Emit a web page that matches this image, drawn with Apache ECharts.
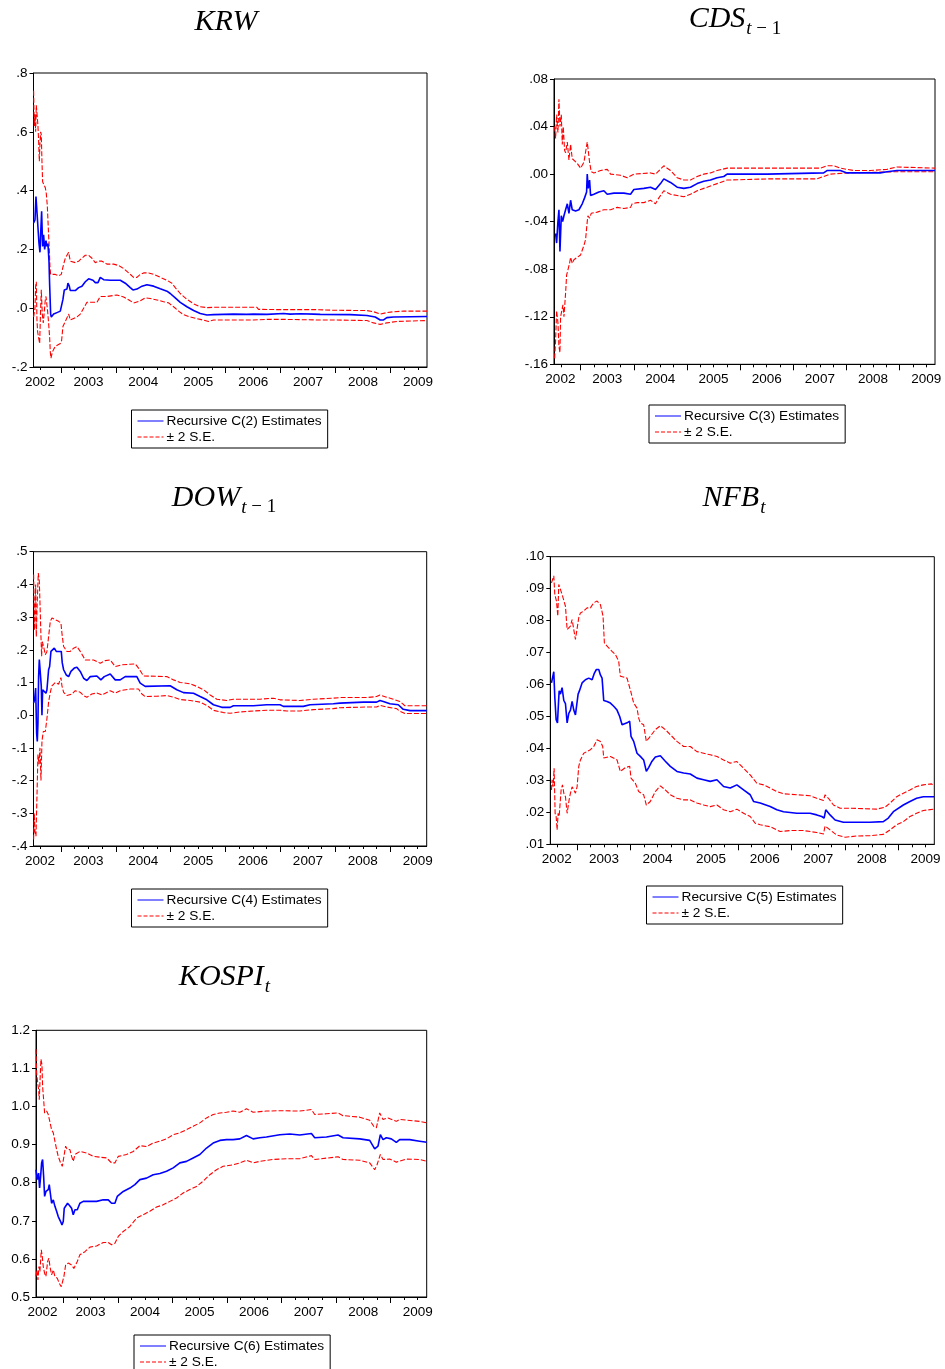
<!DOCTYPE html>
<html><head><meta charset="utf-8">
<script src="https://cdn.jsdelivr.net/npm/echarts@6/dist/echarts.min.js"></script>
<style>html,body{margin:0;padding:0;background:#fff}#c{width:945px;height:1369px}</style>
</head><body><div id="c"></div>
<script>
// ---------- DATA (x = fractional year, y = coefficient) ----------
const yearLabels = ['2002','2003','2004','2005','2006','2007','2008','2009'];
const xStart = 2002.5, xEnd = 2009.665;

const krwTicks = [-0.2, 0, 0.2, 0.4, 0.6, 0.8];
const cdsTicks = [-0.16, -0.12, -0.08, -0.04, 0, 0.04, 0.08];
const dowTicks = [-0.4, -0.3, -0.2, -0.1, 0, 0.1, 0.2, 0.3, 0.4, 0.5];
const nfbTicks = [0.01, 0.02, 0.03, 0.04, 0.05, 0.06, 0.07, 0.08, 0.09, 0.10];
const kospiTicks = [0.5, 0.6, 0.7, 0.8, 0.9, 1.0, 1.1, 1.2];

const krwEst = [[2002.502,0.29],[2002.527,0.30],[2002.545,0.38],[2002.581,0.38],[2002.600,0.22],[2002.618,0.19],[2002.630,0.25],[2002.648,0.33],[2002.666,0.21],[2002.684,0.25],[2002.703,0.20],[2002.727,0.23],[2002.745,0.21],[2002.763,0.22],[2002.782,0.16],[2002.794,0.08],[2002.812,-0.02],[2002.824,-0.03],[2002.867,-0.02],[2002.927,-0.015],[2002.988,-0.01],[2003.018,-0.005],[2003.036,0.03],[2003.061,0.062],[2003.109,0.065],[2003.127,0.085],[2003.152,0.075],[2003.170,0.06],[2003.200,0.065],[2003.261,0.06],[2003.322,0.07],[2003.382,0.075],[2003.443,0.09],[2003.504,0.10],[2003.534,0.105],[2003.583,0.095],[2003.625,0.087],[2003.674,0.087],[2003.716,0.105],[2003.777,0.097],[2003.898,0.095],[2004.080,0.095],[2004.171,0.085],[2004.262,0.07],[2004.311,0.062],[2004.383,0.065],[2004.475,0.075],[2004.566,0.08],[2004.687,0.075],[2004.808,0.066],[2004.930,0.058],[2004.990,0.05],[2005.081,0.035],[2005.172,0.02],[2005.294,0.005],[2005.415,-0.008],[2005.536,-0.018],[2005.658,-0.023],[2005.779,-0.022],[2006.143,-0.02],[2006.386,-0.021],[2006.507,-0.02],[2006.750,-0.021],[2007.053,-0.018],[2007.175,-0.02],[2007.357,-0.019],[2007.600,-0.02],[2007.721,-0.021],[2008.267,-0.022],[2008.570,-0.025],[2008.722,-0.03],[2008.813,-0.04],[2008.874,-0.04],[2008.934,-0.032],[2009.056,-0.03],[2009.665,-0.028]];
const krwUpper = [[2002.502,0.74],[2002.514,0.62],[2002.527,0.66],[2002.539,0.60],[2002.551,0.69],[2002.569,0.65],[2002.581,0.62],[2002.593,0.57],[2002.606,0.50],[2002.618,0.56],[2002.630,0.60],[2002.642,0.59],[2002.654,0.50],[2002.666,0.43],[2002.691,0.42],[2002.715,0.41],[2002.733,0.39],[2002.751,0.35],[2002.763,0.30],[2002.775,0.25],[2002.788,0.20],[2002.800,0.14],[2002.812,0.115],[2002.836,0.12],[2002.897,0.115],[2002.958,0.11],[2003.006,0.115],[2003.024,0.13],[2003.049,0.15],[2003.079,0.17],[2003.109,0.18],[2003.140,0.19],[2003.170,0.16],[2003.200,0.16],[2003.261,0.155],[2003.322,0.16],[2003.382,0.17],[2003.443,0.18],[2003.504,0.18],[2003.564,0.17],[2003.625,0.155],[2003.686,0.16],[2003.746,0.16],[2003.837,0.15],[2003.959,0.15],[2004.050,0.145],[2004.141,0.135],[2004.232,0.12],[2004.323,0.105],[2004.383,0.105],[2004.444,0.115],[2004.505,0.12],[2004.596,0.12],[2004.687,0.115],[2004.808,0.105],[2004.930,0.095],[2005.021,0.085],[2005.081,0.07],[2005.172,0.05],[2005.294,0.03],[2005.415,0.015],[2005.536,0.005],[2005.658,0.002],[2005.779,0.003],[2006.143,0.003],[2006.568,0.003],[2006.598,-0.004],[2007.053,-0.005],[2007.660,-0.005],[2007.964,-0.007],[2008.570,-0.008],[2008.692,-0.012],[2008.813,-0.02],[2008.934,-0.015],[2009.056,-0.012],[2009.238,-0.01],[2009.665,-0.01]];
const krwLower = [[2002.502,-0.03],[2002.527,0.0],[2002.539,0.074],[2002.551,0.09],[2002.563,-0.04],[2002.575,-0.08],[2002.593,-0.10],[2002.612,-0.12],[2002.630,0.0],[2002.642,0.063],[2002.660,-0.02],[2002.678,-0.05],[2002.697,-0.01],[2002.715,0.03],[2002.727,0.04],[2002.745,0.01],[2002.757,-0.01],[2002.775,-0.05],[2002.794,-0.10],[2002.806,-0.15],[2002.818,-0.17],[2002.842,-0.15],[2002.867,-0.14],[2002.897,-0.13],[2002.927,-0.125],[2002.988,-0.12],[2003.012,-0.11],[2003.036,-0.062],[2003.079,-0.045],[2003.109,-0.04],[2003.140,-0.02],[2003.170,-0.04],[2003.231,-0.035],[2003.291,-0.03],[2003.352,-0.02],[2003.413,0.0],[2003.473,0.02],[2003.564,0.02],[2003.655,0.02],[2003.716,0.04],[2003.837,0.04],[2004.019,0.045],[2004.141,0.038],[2004.262,0.025],[2004.323,0.018],[2004.444,0.025],[2004.535,0.035],[2004.626,0.033],[2004.748,0.028],[2004.869,0.022],[2004.960,0.018],[2005.051,0.005],[2005.142,-0.01],[2005.233,-0.022],[2005.354,-0.03],[2005.536,-0.038],[2005.688,-0.045],[2005.779,-0.04],[2006.143,-0.04],[2006.507,-0.04],[2006.750,-0.038],[2007.053,-0.038],[2007.660,-0.04],[2007.964,-0.04],[2008.570,-0.042],[2008.692,-0.05],[2008.813,-0.055],[2008.934,-0.05],[2009.117,-0.045],[2009.665,-0.042]];

const cdsEst = [[2002.530,-0.05],[2002.549,-0.058],[2002.574,-0.04],[2002.593,-0.03],[2002.612,-0.065],[2002.637,-0.035],[2002.662,-0.04],[2002.687,-0.035],[2002.718,-0.03],[2002.750,-0.025],[2002.781,-0.033],[2002.812,-0.022],[2002.843,-0.03],[2002.906,-0.031],[2002.969,-0.03],[2003.031,-0.025],[2003.075,-0.02],[2003.113,-0.015],[2003.125,0.0],[2003.144,-0.012],[2003.169,-0.005],[2003.188,-0.018],[2003.250,-0.017],[2003.344,-0.015],[2003.438,-0.014],[2003.501,-0.017],[2003.626,-0.016],[2003.814,-0.016],[2003.939,-0.017],[2004.002,-0.013],[2004.190,-0.012],[2004.315,-0.011],[2004.409,-0.013],[2004.503,-0.008],[2004.565,-0.004],[2004.691,-0.007],[2004.816,-0.011],[2004.941,-0.012],[2005.066,-0.011],[2005.192,-0.008],[2005.317,-0.006],[2005.442,-0.005],[2005.567,-0.003],[2005.693,-0.002],[2005.755,0.0],[2006.507,0.0],[2006.538,0.001],[2007.571,0.001],[2007.634,0.003],[2007.884,0.003],[2008.009,0.001],[2008.636,0.001],[2008.761,0.002],[2008.949,0.003],[2009.665,0.003]];
const cdsUpper = [[2002.512,0.04],[2002.530,0.03],[2002.549,0.05],[2002.574,0.035],[2002.593,0.063],[2002.612,0.04],[2002.637,0.05],[2002.656,0.025],[2002.674,0.04],[2002.699,0.02],[2002.718,0.018],[2002.750,0.027],[2002.781,0.012],[2002.812,0.025],[2002.843,0.013],[2002.875,0.012],[2002.937,0.009],[2003.000,0.005],[2003.063,0.01],[2003.125,0.027],[2003.144,0.02],[2003.169,0.01],[2003.200,0.002],[2003.250,0.001],[2003.376,0.003],[2003.501,0.004],[2003.564,0.0],[2003.751,-0.001],[2003.877,-0.003],[2004.002,0.0],[2004.315,0.001],[2004.409,0.0],[2004.565,0.007],[2004.691,0.003],[2004.816,-0.003],[2004.941,-0.005],[2005.066,-0.005],[2005.192,-0.002],[2005.317,0.0],[2005.442,0.001],[2005.567,0.003],[2005.755,0.005],[2007.508,0.005],[2007.634,0.007],[2007.759,0.007],[2007.884,0.005],[2008.009,0.004],[2008.135,0.003],[2008.448,0.003],[2008.761,0.004],[2008.949,0.006],[2009.665,0.005]];
const cdsLower = [[2002.512,-0.155],[2002.530,-0.14],[2002.549,-0.115],[2002.574,-0.125],[2002.593,-0.145],[2002.612,-0.15],[2002.624,-0.12],[2002.643,-0.12],[2002.668,-0.11],[2002.687,-0.12],[2002.718,-0.10],[2002.737,-0.085],[2002.762,-0.085],[2002.793,-0.075],[2002.812,-0.07],[2002.843,-0.075],[2002.875,-0.072],[2002.937,-0.07],[2003.000,-0.068],[2003.063,-0.06],[2003.094,-0.055],[2003.125,-0.04],[2003.138,-0.035],[2003.169,-0.037],[2003.200,-0.033],[2003.313,-0.032],[2003.438,-0.03],[2003.564,-0.03],[2003.689,-0.028],[2003.814,-0.029],[2003.939,-0.028],[2003.971,-0.025],[2004.065,-0.024],[2004.190,-0.024],[2004.315,-0.022],[2004.409,-0.025],[2004.472,-0.02],[2004.565,-0.014],[2004.691,-0.017],[2004.816,-0.018],[2004.941,-0.019],[2005.066,-0.017],[2005.192,-0.014],[2005.317,-0.012],[2005.442,-0.01],[2005.567,-0.008],[2005.693,-0.006],[2005.755,-0.005],[2006.569,-0.004],[2007.446,-0.004],[2007.571,-0.002],[2007.696,0.0],[2008.009,0.001],[2008.949,0.002],[2009.665,0.002]];

const dowEst = [[2002.502,0.037],[2002.520,0.047],[2002.539,0.083],[2002.557,-0.055],[2002.569,-0.08],[2002.581,-0.024],[2002.593,0.118],[2002.606,0.17],[2002.624,0.17],[2002.642,0.088],[2002.654,0.0],[2002.666,0.078],[2002.697,0.083],[2002.727,0.067],[2002.745,0.078],[2002.775,0.139],[2002.794,0.149],[2002.818,0.195],[2002.848,0.20],[2002.879,0.205],[2002.915,0.195],[2002.958,0.195],[2002.988,0.20],[2003.006,0.195],[2003.024,0.16],[2003.049,0.139],[2003.097,0.123],[2003.140,0.118],[2003.182,0.134],[2003.243,0.144],[2003.291,0.147],[2003.352,0.134],[2003.413,0.113],[2003.473,0.106],[2003.534,0.118],[2003.655,0.12],[2003.728,0.108],[2003.789,0.118],[2003.898,0.126],[2003.989,0.108],[2004.080,0.108],[2004.171,0.118],[2004.383,0.118],[2004.444,0.098],[2004.535,0.088],[2004.990,0.09],[2005.112,0.078],[2005.233,0.069],[2005.415,0.067],[2005.536,0.057],[2005.658,0.047],[2005.779,0.032],[2005.931,0.024],[2006.083,0.024],[2006.143,0.029],[2006.507,0.029],[2006.750,0.032],[2006.993,0.032],[2007.053,0.027],[2007.417,0.027],[2007.539,0.032],[2007.964,0.035],[2008.085,0.037],[2008.510,0.04],[2008.752,0.04],[2008.813,0.045],[2008.874,0.042],[2008.995,0.035],[2009.147,0.032],[2009.238,0.018],[2009.359,0.014],[2009.665,0.014]];
const dowUpper = [[2002.502,0.43],[2002.520,0.26],[2002.539,0.40],[2002.551,0.24],[2002.563,0.32],[2002.587,0.435],[2002.606,0.41],[2002.624,0.31],[2002.636,0.24],[2002.648,0.18],[2002.660,0.225],[2002.684,0.21],[2002.715,0.185],[2002.745,0.195],[2002.775,0.24],[2002.806,0.287],[2002.836,0.297],[2002.867,0.302],[2002.897,0.292],[2002.958,0.287],[2003.000,0.282],[2003.018,0.251],[2003.049,0.21],[2003.109,0.195],[2003.170,0.195],[2003.231,0.205],[2003.291,0.21],[2003.352,0.195],[2003.443,0.169],[2003.595,0.169],[2003.716,0.159],[2003.807,0.167],[2003.898,0.169],[2003.989,0.149],[2004.110,0.154],[2004.353,0.157],[2004.414,0.144],[2004.505,0.12],[2004.930,0.118],[2005.051,0.108],[2005.172,0.10],[2005.354,0.096],[2005.476,0.088],[2005.597,0.078],[2005.718,0.062],[2005.840,0.049],[2006.022,0.045],[2006.143,0.049],[2006.629,0.049],[2006.871,0.052],[2006.993,0.047],[2007.357,0.045],[2007.600,0.049],[2007.964,0.052],[2008.085,0.054],[2008.570,0.054],[2008.752,0.057],[2008.813,0.062],[2008.934,0.055],[2009.056,0.049],[2009.177,0.042],[2009.268,0.029],[2009.665,0.029]];
const dowLower = [[2002.502,-0.38],[2002.514,-0.30],[2002.527,-0.36],[2002.545,-0.37],[2002.563,-0.25],[2002.581,-0.12],[2002.600,-0.15],[2002.618,-0.10],[2002.636,-0.20],[2002.654,-0.08],[2002.678,-0.05],[2002.715,-0.05],[2002.745,-0.01],[2002.775,0.04],[2002.806,0.07],[2002.836,0.09],[2002.897,0.10],[2002.958,0.095],[2003.000,0.115],[2003.018,0.09],[2003.049,0.07],[2003.109,0.06],[2003.140,0.055],[2003.200,0.065],[2003.261,0.075],[2003.352,0.07],[2003.413,0.06],[2003.473,0.055],[2003.564,0.065],[2003.655,0.068],[2003.746,0.062],[2003.898,0.075],[2003.989,0.068],[2004.080,0.075],[2004.262,0.08],[2004.414,0.08],[2004.475,0.065],[2004.535,0.057],[2004.748,0.058],[2004.930,0.06],[2005.051,0.055],[2005.172,0.048],[2005.354,0.045],[2005.536,0.04],[2005.658,0.03],[2005.779,0.015],[2005.961,0.008],[2006.083,0.006],[2006.265,0.01],[2006.507,0.013],[2006.750,0.015],[2006.993,0.015],[2007.114,0.013],[2007.357,0.013],[2007.600,0.017],[2007.964,0.02],[2008.085,0.023],[2008.570,0.025],[2008.752,0.025],[2008.813,0.03],[2008.934,0.025],[2009.117,0.02],[2009.177,0.012],[2009.268,0.005],[2009.665,0.005]];

const nfbEst = [[2002.522,0.0605],[2002.547,0.060],[2002.565,0.064],[2002.584,0.056],[2002.609,0.049],[2002.634,0.048],[2002.652,0.054],[2002.665,0.058],[2002.689,0.057],[2002.720,0.059],[2002.752,0.055],[2002.783,0.054],[2002.814,0.048],[2002.845,0.051],[2002.876,0.052],[2002.907,0.0547],[2002.938,0.052],[2002.969,0.0505],[2003.000,0.050],[2003.019,0.057],[2003.043,0.058],[2003.093,0.0605],[2003.155,0.0615],[2003.217,0.062],[2003.280,0.0615],[2003.323,0.0636],[2003.360,0.0647],[2003.404,0.0647],[2003.435,0.063],[2003.466,0.062],[2003.497,0.055],[2003.559,0.0547],[2003.621,0.0542],[2003.683,0.0532],[2003.745,0.052],[2003.795,0.050],[2003.839,0.0474],[2003.932,0.048],[2003.981,0.0485],[2004.006,0.0438],[2004.056,0.0422],[2004.118,0.0385],[2004.180,0.0375],[2004.242,0.0364],[2004.292,0.0328],[2004.335,0.034],[2004.398,0.036],[2004.460,0.0373],[2004.553,0.0377],[2004.646,0.036],[2004.739,0.0344],[2004.863,0.0328],[2004.988,0.0323],[2005.112,0.032],[2005.236,0.0307],[2005.360,0.0302],[2005.484,0.0297],[2005.609,0.0302],[2005.733,0.0281],[2005.857,0.0276],[2005.981,0.0286],[2006.106,0.027],[2006.230,0.0255],[2006.292,0.0234],[2006.416,0.0229],[2006.602,0.0218],[2006.727,0.0208],[2006.851,0.0202],[2007.099,0.0197],[2007.348,0.0197],[2007.472,0.0192],[2007.565,0.0187],[2007.609,0.0182],[2007.640,0.0208],[2007.720,0.0192],[2007.814,0.0176],[2007.969,0.0169],[2008.466,0.0169],[2008.714,0.0171],[2008.807,0.0182],[2008.901,0.0202],[2009.087,0.0223],[2009.211,0.0234],[2009.335,0.0244],[2009.460,0.0249],[2009.665,0.0249]];
const nfbUpper = [[2002.522,0.0918],[2002.547,0.0924],[2002.565,0.094],[2002.584,0.0882],[2002.615,0.0861],[2002.640,0.0814],[2002.658,0.0913],[2002.689,0.0908],[2002.720,0.0882],[2002.752,0.0877],[2002.783,0.0845],[2002.814,0.0772],[2002.845,0.0772],[2002.876,0.0783],[2002.907,0.0803],[2002.938,0.0772],[2002.969,0.0741],[2003.000,0.0746],[2003.031,0.0809],[2003.062,0.0824],[2003.124,0.083],[2003.186,0.084],[2003.248,0.084],[2003.311,0.0856],[2003.373,0.0861],[2003.435,0.085],[2003.484,0.0814],[2003.509,0.073],[2003.559,0.072],[2003.652,0.0704],[2003.714,0.0694],[2003.776,0.0673],[2003.807,0.0626],[2003.932,0.062],[2004.000,0.0579],[2004.056,0.0542],[2004.118,0.0526],[2004.149,0.0495],[2004.180,0.048],[2004.242,0.0474],[2004.292,0.0422],[2004.366,0.0438],[2004.460,0.0459],[2004.553,0.0471],[2004.646,0.0459],[2004.739,0.0443],[2004.863,0.0422],[2004.988,0.0406],[2005.112,0.0406],[2005.236,0.039],[2005.360,0.0385],[2005.484,0.038],[2005.609,0.0375],[2005.733,0.0364],[2005.857,0.0354],[2005.981,0.0359],[2006.106,0.0338],[2006.230,0.0317],[2006.354,0.0291],[2006.478,0.0286],[2006.602,0.0276],[2006.727,0.0265],[2006.851,0.0258],[2007.099,0.0255],[2007.348,0.0252],[2007.472,0.0244],[2007.596,0.0237],[2007.627,0.0255],[2007.689,0.0244],[2007.783,0.0223],[2007.907,0.0213],[2008.093,0.0213],[2008.590,0.021],[2008.745,0.0216],[2008.839,0.0229],[2008.963,0.0249],[2009.087,0.026],[2009.211,0.027],[2009.335,0.0281],[2009.460,0.0286],[2009.615,0.0289],[2009.665,0.0283]];
const nfbLower = [[2002.522,0.027],[2002.534,0.0302],[2002.553,0.028],[2002.571,0.0338],[2002.590,0.0197],[2002.609,0.0187],[2002.627,0.0145],[2002.646,0.0197],[2002.665,0.0187],[2002.702,0.027],[2002.727,0.0286],[2002.752,0.026],[2002.783,0.0249],[2002.814,0.0197],[2002.832,0.0192],[2002.851,0.0239],[2002.876,0.026],[2002.907,0.028],[2002.938,0.027],[2002.969,0.026],[2003.000,0.028],[2003.031,0.0344],[2003.062,0.0364],[2003.124,0.0385],[2003.248,0.0396],[2003.311,0.0406],[2003.373,0.0427],[2003.435,0.0422],[2003.478,0.0406],[2003.497,0.037],[2003.621,0.0375],[2003.745,0.0364],[2003.807,0.0328],[2003.901,0.034],[2003.981,0.0344],[2004.006,0.0307],[2004.087,0.0291],[2004.149,0.0265],[2004.242,0.0255],[2004.292,0.0223],[2004.366,0.0234],[2004.460,0.0265],[2004.553,0.0283],[2004.646,0.027],[2004.739,0.0255],[2004.863,0.0244],[2004.988,0.0239],[2005.112,0.0239],[2005.236,0.0229],[2005.360,0.0223],[2005.484,0.0218],[2005.609,0.0223],[2005.733,0.0208],[2005.857,0.0202],[2005.981,0.021],[2006.106,0.0197],[2006.230,0.0187],[2006.323,0.0166],[2006.416,0.0161],[2006.602,0.0155],[2006.789,0.014],[2006.975,0.0143],[2007.224,0.0143],[2007.472,0.0137],[2007.596,0.0132],[2007.627,0.0157],[2007.720,0.0145],[2007.845,0.0129],[2008.000,0.0122],[2008.217,0.0126],[2008.466,0.0127],[2008.714,0.0131],[2008.839,0.0145],[2008.963,0.0161],[2009.087,0.0171],[2009.211,0.0187],[2009.335,0.0197],[2009.460,0.0206],[2009.665,0.021]];

const kospiEst = [[2002.500,0.834],[2002.524,0.808],[2002.548,0.825],[2002.566,0.786],[2002.585,0.817],[2002.603,0.852],[2002.621,0.861],[2002.640,0.817],[2002.658,0.764],[2002.682,0.777],[2002.725,0.782],[2002.743,0.795],[2002.756,0.79],[2002.786,0.746],[2002.817,0.755],[2002.847,0.738],[2002.878,0.725],[2002.908,0.711],[2002.951,0.698],[2002.976,0.689],[2003.000,0.698],[2003.018,0.733],[2003.049,0.738],[2003.079,0.746],[2003.122,0.739],[2003.153,0.733],[2003.183,0.716],[2003.214,0.729],[2003.257,0.729],[2003.305,0.746],[2003.367,0.751],[2003.611,0.751],[2003.733,0.755],[2003.825,0.755],[2003.886,0.746],[2003.947,0.746],[2003.990,0.764],[2004.100,0.777],[2004.222,0.786],[2004.313,0.795],[2004.405,0.808],[2004.527,0.812],[2004.649,0.821],[2004.772,0.824],[2004.894,0.83],[2005.016,0.839],[2005.138,0.852],[2005.260,0.856],[2005.382,0.865],[2005.505,0.874],[2005.627,0.891],[2005.749,0.904],[2005.871,0.911],[2005.993,0.913],[2006.115,0.913],[2006.238,0.915],[2006.360,0.924],[2006.482,0.915],[2006.604,0.918],[2006.726,0.92],[2006.971,0.926],[2007.154,0.928],[2007.337,0.925],[2007.551,0.929],[2007.612,0.918],[2007.826,0.92],[2008.040,0.925],[2008.131,0.918],[2008.437,0.915],[2008.620,0.911],[2008.711,0.889],[2008.772,0.896],[2008.815,0.926],[2008.864,0.913],[2008.925,0.918],[2009.016,0.915],[2009.108,0.906],[2009.169,0.913],[2009.353,0.913],[2009.536,0.909],[2009.665,0.906]];
const kospiUpper = [[2002.500,1.15],[2002.511,1.089],[2002.530,1.062],[2002.548,1.045],[2002.560,1.018],[2002.572,1.062],[2002.591,1.124],[2002.609,1.11],[2002.621,1.053],[2002.640,1.018],[2002.658,0.983],[2002.695,0.988],[2002.725,0.979],[2002.756,0.983],[2002.786,0.939],[2002.817,0.931],[2002.847,0.909],[2002.878,0.887],[2002.908,0.869],[2002.951,0.852],[2002.982,0.843],[2003.012,0.869],[2003.043,0.896],[2003.073,0.887],[2003.122,0.887],[2003.153,0.869],[2003.183,0.856],[2003.214,0.874],[2003.305,0.882],[2003.428,0.878],[2003.550,0.869],[2003.794,0.865],[2003.886,0.852],[2003.947,0.852],[2004.008,0.869],[2004.161,0.874],[2004.283,0.882],[2004.405,0.897],[2004.527,0.895],[2004.649,0.904],[2004.772,0.909],[2004.894,0.915],[2005.016,0.926],[2005.138,0.931],[2005.260,0.939],[2005.382,0.948],[2005.505,0.957],[2005.627,0.97],[2005.749,0.979],[2005.871,0.983],[2005.993,0.985],[2006.115,0.988],[2006.238,0.985],[2006.360,0.994],[2006.482,0.985],[2006.726,0.988],[2006.971,0.989],[2007.337,0.988],[2007.551,0.992],[2007.612,0.979],[2007.826,0.981],[2008.040,0.983],[2008.131,0.976],[2008.437,0.972],[2008.620,0.964],[2008.693,0.948],[2008.742,0.944],[2008.803,0.983],[2008.864,0.966],[2008.955,0.97],[2009.108,0.961],[2009.169,0.966],[2009.536,0.961],[2009.665,0.957]];
const kospiLower = [[2002.500,0.554],[2002.517,0.571],[2002.536,0.545],[2002.554,0.58],[2002.572,0.567],[2002.597,0.624],[2002.615,0.606],[2002.633,0.58],[2002.658,0.562],[2002.682,0.554],[2002.713,0.593],[2002.737,0.602],[2002.756,0.58],[2002.786,0.558],[2002.817,0.571],[2002.847,0.554],[2002.890,0.549],[2002.927,0.536],[2002.963,0.527],[2002.988,0.532],[2003.012,0.554],[2003.043,0.584],[2003.092,0.589],[2003.153,0.584],[2003.195,0.575],[2003.257,0.593],[2003.305,0.611],[2003.397,0.619],[2003.489,0.631],[2003.611,0.634],[2003.733,0.643],[2003.825,0.643],[2003.886,0.637],[2003.947,0.641],[2004.008,0.659],[2004.100,0.672],[2004.222,0.685],[2004.344,0.707],[2004.466,0.716],[2004.588,0.725],[2004.710,0.736],[2004.833,0.742],[2004.955,0.751],[2005.077,0.76],[2005.199,0.773],[2005.321,0.782],[2005.443,0.79],[2005.566,0.804],[2005.688,0.821],[2005.810,0.834],[2005.932,0.843],[2006.115,0.847],[2006.238,0.852],[2006.360,0.859],[2006.482,0.852],[2006.604,0.856],[2006.849,0.861],[2007.093,0.863],[2007.337,0.863],[2007.551,0.871],[2007.612,0.861],[2008.040,0.868],[2008.131,0.861],[2008.437,0.859],[2008.620,0.852],[2008.711,0.834],[2008.754,0.847],[2008.815,0.874],[2008.864,0.861],[2008.986,0.862],[2009.108,0.854],[2009.291,0.862],[2009.536,0.861],[2009.665,0.856]];

// ---------- LAYOUT / STYLE ----------
const bandName = '± 2 S.E.';
const estColor = '#0000ff', bandColor = '#ff0000', bandDash = [5, 2];
const solidIcon = 'path://M0,0H26V1H0Z';
const dashIcon = 'path://M0,0H4V1H0ZM6,0H10V1H6ZM12,0H16V1H12ZM18,0H22V1H18ZM24,0H26V1H24Z';
const panels = [
  {main:'KRW', sub:null, name:'Recursive C(2) Estimates', est:krwEst, up:krwUpper, lo:krwLower, ticks:krwTicks, dec:1, lead:false,
   grid:{left:33.5, top:73, width:393.5, height:294}, tx:226, ty:11, lg:{left:131.5, top:410}},
  {main:'CDS', sub:['t',' − 1'], name:'Recursive C(3) Estimates', est:cdsEst, up:cdsUpper, lo:cdsLower, ticks:cdsTicks, dec:2, lead:false,
   grid:{left:554, top:79, width:381, height:285.3}, tx:735, ty:8.5, lg:{left:649, top:405}},
  {main:'DOW', sub:['t',' − 1'], name:'Recursive C(4) Estimates', est:dowEst, up:dowUpper, lo:dowLower, ticks:dowTicks, dec:1, lead:false,
   grid:{left:33.5, top:551.7, width:393.2, height:294.3}, tx:224, ty:487, lg:{left:131.5, top:889}},
  {main:'NFB', sub:['t',''], name:'Recursive C(5) Estimates', est:nfbEst, up:nfbUpper, lo:nfbLower, ticks:nfbTicks, dec:2, lead:false,
   grid:{left:550.3, top:556.7, width:384, height:287.6}, tx:734, ty:487, lg:{left:646.5, top:886}},
  {main:'KOSPI', sub:['t',''], name:'Recursive C(6) Estimates', est:kospiEst, up:kospiUpper, lo:kospiLower, ticks:kospiTicks, dec:1, lead:true,
   grid:{left:36, top:1030.3, width:390.7, height:266.7}, tx:224.5, ty:966.5, lg:{left:134, top:1335}}
];

const yearTicks = yearLabels.slice(1).map(Number);
const quarterTicks = [2002.63];
yearLabels.slice(1).forEach(y => { [0.25, 0.5, 0.75].forEach(q => { if (+y + q < xEnd) quarterTicks.push(+y + q); }); });
const labelPos = yearLabels.map((y, i) => i === 0 ? +y + 0.62 : +y + 0.5);

const sansFont = 'Liberation Sans, Arial, sans-serif';
const serifFont = 'Liberation Serif, Times New Roman, serif';

const option = {
  animation: false,
  backgroundColor: '#fff',
  title: [], legend: [], grid: [], xAxis: [], yAxis: [], series: []
};

panels.forEach((p, i) => {
  let text = '{m|' + p.main + '}';
  if (p.sub) text += '{t|' + p.sub[0] + '}' + (p.sub[1] ? '{n|' + p.sub[1] + '}' : '');
  option.title.push({
    text, left: p.tx, top: p.ty, textAlign: 'center', padding: 0,
    textStyle: { fontWeight: 'normal', rich: {
      m: {fontFamily: serifFont, fontStyle: 'italic', fontWeight: 'normal', fontSize: 30, color: '#000', lineHeight: 30, padding: [0,0,4,0], verticalAlign: 'bottom'},
      t: {fontFamily: serifFont, fontStyle: 'italic', fontWeight: 'normal', fontSize: 19, color: '#000', lineHeight: 18, padding: [0,0,0,1], verticalAlign: 'bottom'},
      n: {fontFamily: serifFont, fontWeight: 'normal', fontSize: 19, color: '#000', lineHeight: 18, verticalAlign: 'bottom'}
    }}
  });
  option.grid.push(Object.assign({show: true, borderColor: '#000', borderWidth: 1, backgroundColor: 'transparent', containLabel: false}, p.grid));
  const yMin = p.ticks[0], yMax = p.ticks[p.ticks.length - 1];
  const fmt = v => { let s = v.toFixed(p.dec); if (!p.lead) s = s.replace(/^(-?)0\./, '$1.'); return s; };
  option.xAxis.push({
    gridIndex: i, type: 'value', min: xStart, max: xEnd, position: 'bottom',
    axisLine: {show: true, onZero: false, lineStyle: {color: '#000', width: 1}},
    axisTick: {show: true, length: 6, customValues: yearTicks, lineStyle: {color: '#000', width: 1}},
    axisLabel: {customValues: labelPos, formatter: v => String(Math.floor(v + 1e-6)), color: '#000', fontFamily: sansFont, fontSize: 13.5, margin: 8},
    splitLine: {show: false}
  });
  option.xAxis.push({
    gridIndex: i, type: 'value', min: xStart, max: xEnd, position: 'bottom', offset: 0,
    axisLine: {show: false, onZero: false},
    axisTick: {show: true, length: 3, customValues: quarterTicks, lineStyle: {color: '#000', width: 1}},
    axisLabel: {show: false}, splitLine: {show: false}
  });
  option.yAxis.push({
    gridIndex: i, type: 'value', min: yMin, max: yMax,
    axisLine: {show: true, onZero: false, lineStyle: {color: '#000', width: 1}},
    axisTick: {show: true, length: 4, customValues: p.ticks, lineStyle: {color: '#000', width: 1}},
    axisLabel: {customValues: p.ticks, formatter: fmt, color: '#000', fontFamily: sansFont, fontSize: 13.5, margin: 6},
    splitLine: {show: false}
  });
  const xi = i * 2;
  option.series.push({
    type: 'line', name: p.name, xAxisIndex: xi, yAxisIndex: i, data: p.est, symbol: 'none', z: 3,
    lineStyle: {color: estColor, width: 1.6}, itemStyle: {color: estColor}
  });
  [p.up, p.lo].forEach(d => option.series.push({
    type: 'line', name: bandName, xAxisIndex: xi, yAxisIndex: i, data: d, symbol: 'none', z: 2,
    lineStyle: {color: bandColor, width: 1.1, type: bandDash}, itemStyle: {color: bandColor}
  }));
  option.legend.push({
    left: p.lg.left, top: p.lg.top, height: 60, orient: 'vertical', align: 'left',
    data: [
      {name: p.name, icon: solidIcon, itemStyle: {color: estColor, opacity: 1, borderWidth: 0}},
      {name: bandName, icon: dashIcon, itemStyle: {color: bandColor, opacity: 1, borderWidth: 0}}
    ],
    selectedMode: false, symbolKeepAspect: true,
    borderColor: '#000', borderWidth: 1, borderRadius: 0, backgroundColor: '#fff',
    padding: [4, 6, 4, 6], itemGap: 2, itemWidth: 26, itemHeight: 12,
    textStyle: {fontFamily: sansFont, fontSize: 13.7, color: '#000', padding: [0, 0, 0, -2]}
  });
});

const chart = echarts.init(document.getElementById('c'), null, {renderer: 'canvas'});
chart.setOption(option);
</script>
</body></html>
